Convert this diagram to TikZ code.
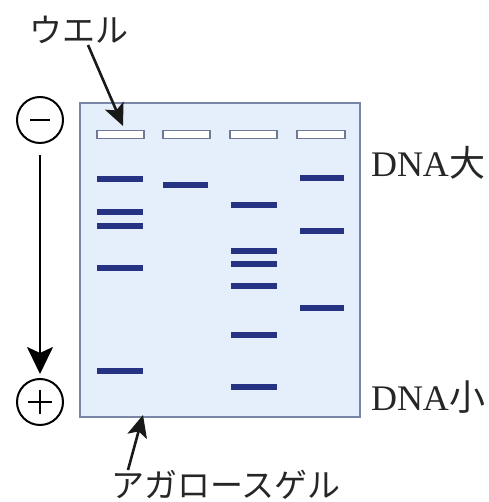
\documentclass[tikz,border=0pt]{standalone}
\usepackage{fontspec}
\setmainfont{Liberation Serif}
\newfontfamily\jp{Noto Sans CJK JP}
\usetikzlibrary{arrows.meta}
\definecolor{gelfill}{HTML}{E4EFFB}
\definecolor{gelline}{HTML}{7A86A6}
\definecolor{bandcol}{HTML}{263383}
\definecolor{wellline}{HTML}{6E7894}
\tikzset{
  gel/.style={draw=gelline, line width=1.8pt, fill=gelfill},
  well/.style={draw=wellline, line width=1.8pt, fill=white},
  band/.style={draw=bandcol, line width=5.2pt},
  pole/.style={circle, draw=black, line width=2pt, minimum size=46pt, inner sep=0pt},
  sym/.style={draw=black, line width=1.6pt},
  lbl/.style={inner sep=0pt, text=black!85},
  pointer/.style={draw=black!90, line width=2.6pt, -{Stealth[length=22pt, width=20pt, inset=5pt]}},
  migrate/.style={draw=black, line width=2.2pt, -{Stealth[length=27pt, width=26pt, inset=6pt]}}
}
\begin{document}
\begin{tikzpicture}[x=1pt, y=1pt]
\useasboundingbox (0,0) rectangle (488,502);
% gel
\draw[gel] (80,85) rectangle (360,399);
% wells
\foreach \a/\b [count=\i] in {97/144,163/210,230/277,297/345}{
  \draw[well] (\a,363.5) rectangle (\b,371.5);
}
\coordinate (welltop) at (123,376);
% bands lane 1
\foreach \y in {179,212,226,268,371}{ \draw[band] (97,502-\y) -- (143,502-\y); }
% lane 2
\foreach \y in {185}{ \draw[band] (163,502-\y) -- (208,502-\y); }
% lane 3
\foreach \y in {205,251,264,286,335,387}{ \draw[band] (231,502-\y) -- (277,502-\y); }
% lane 4
\foreach \y in {178,231,308}{ \draw[band] (300,502-\y) -- (344,502-\y); }
% electrodes
\node[pole] (minus) at (40,382) {};
\node[pole] (plus) at (40,100) {};
\draw[sym] ([xshift=-10pt]minus.center) -- ([xshift=10pt]minus.center);
\draw[sym] ([xshift=-12pt]plus.center) -- ([xshift=12pt]plus.center);
\draw[sym] ([yshift=-12pt]plus.center) -- ([yshift=12pt]plus.center);
\draw[migrate] ([yshift=-11pt]minus.south) -- ([yshift=4pt]plus.north);
% labels
\node[lbl, font=\jp\fontsize{33}{33}\selectfont] (well) at (79,472) {ウエル};
\draw[pointer] (88,457) -- (welltop);
\node[lbl, font=\fontsize{36}{36}\selectfont] (large) at (428,339) {DNA{\jp 大}};
\node[lbl, font=\fontsize{36}{36}\selectfont] (small) at (428,105) {DNA{\jp 小}};
\node[lbl, font=\jp\fontsize{33}{33}\selectfont] (agarose) at (226,17) {アガロースゲル};
\coordinate (gelbottom) at (143,87);
\draw[pointer] (128,32) -- (gelbottom);
\end{tikzpicture}
\end{document}
